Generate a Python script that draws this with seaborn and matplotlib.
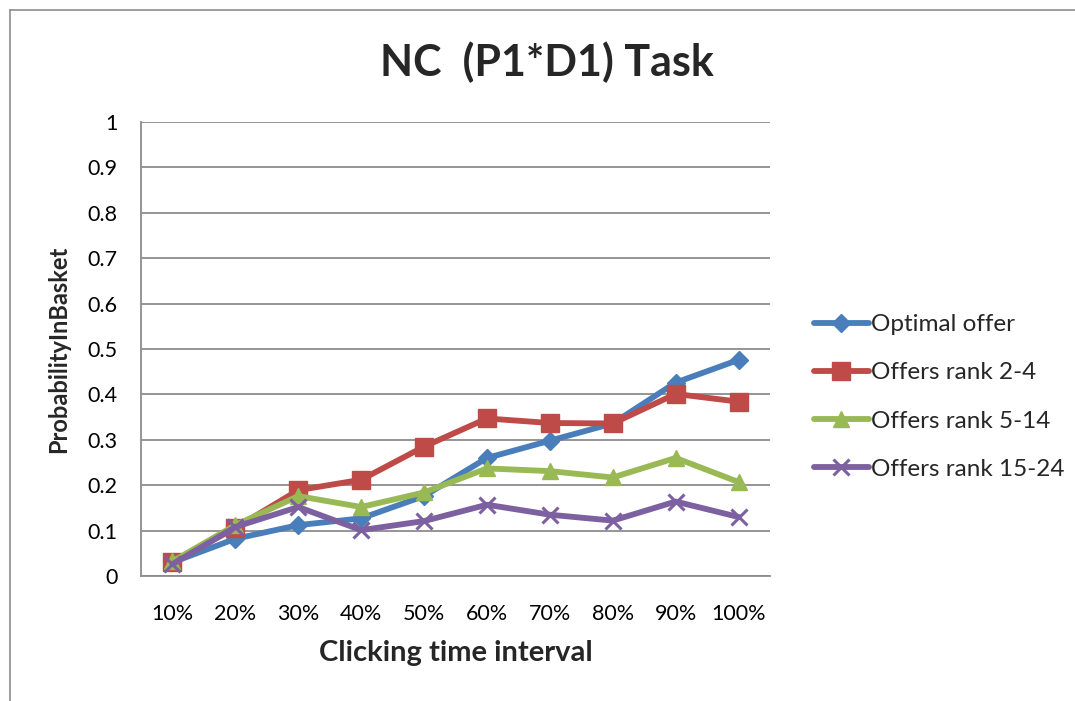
import matplotlib
matplotlib.use("Agg")
import matplotlib.pyplot as plt
from matplotlib.lines import Line2D
import seaborn as sns
import pandas as pd

intervals = ["10%", "20%", "30%", "40%", "50%", "60%", "70%", "80%", "90%", "100%"]
optimal = [0.030, 0.082, 0.112, 0.127, 0.176, 0.260, 0.298, 0.336, 0.426, 0.476]
rank_2_4 = [0.030, 0.106, 0.189, 0.212, 0.285, 0.347, 0.337, 0.336, 0.401, 0.384]
rank_5_14 = [0.032, 0.112, 0.176, 0.152, 0.184, 0.237, 0.231, 0.217, 0.260, 0.207]
rank_15_24 = [0.026, 0.108, 0.152, 0.101, 0.121, 0.157, 0.135, 0.122, 0.164, 0.130]
series_names = ["Optimal offer", "Offers rank 2-4", "Offers rank 5-14", "Offers rank 15-24"]
y_ticks = [0, 0.1, 0.2, 0.3, 0.4, 0.5, 0.6, 0.7, 0.8, 0.9, 1]

colors = ["#4A7EBB", "#BE4B48", "#98B954", "#7D60A0"]
marker_shapes = ["D", "s", "^", "x"]
marker_sizes = [9, 13, 12, 12]

rows = []
for name, vals in zip(series_names, [optimal, rank_2_4, rank_5_14, rank_15_24]):
    for i, v in enumerate(vals):
        rows.append({"pos": i, "interval": intervals[i], "series": name, "value": v})
df = pd.DataFrame(rows)

sns.set_theme(style="white")
plt.rcParams["font.family"] = ["Lato", "DejaVu Sans"]

fig = plt.figure(figsize=(10.75, 7.01), dpi=100)
fig.patch.set_facecolor("white")

# outer chart frame (left and top edges)
fig.add_artist(Line2D([10 / 1075, 10 / 1075], [0, 1 - 10 / 701], transform=fig.transFigure,
                      color="#8C8C8C", lw=1.2))
fig.add_artist(Line2D([10 / 1075, 1], [1 - 10 / 701, 1 - 10 / 701], transform=fig.transFigure,
                      color="#8C8C8C", lw=1.2))

ax = fig.add_axes([141 / 1075, 125 / 701, 629 / 1075, 454 / 701])

for name, col, mk, ms in zip(series_names, colors, marker_shapes, marker_sizes):
    sub = df[df["series"] == name]
    sns.lineplot(data=sub, x="pos", y="value", ax=ax, color=col, lw=4.2,
                 marker=mk, markersize=ms, markeredgecolor=col,
                 markeredgewidth=2.2 if mk == "x" else 1, label=name, legend=False)

ax.set_xlim(-0.5, 9.5)
ax.set_ylim(0, 1)
ax.set_xticks(range(len(intervals)))
ax.set_xticklabels(intervals)
ax.set_yticks(y_ticks)
ax.set_yticklabels([f"{t:g}" for t in y_ticks])
ax.yaxis.grid(True, color="#8C8C8C", lw=1.3)
ax.xaxis.grid(False)
ax.set_axisbelow(True)
for side in ["top", "right"]:
    ax.spines[side].set_visible(False)
for side in ["left", "bottom"]:
    ax.spines[side].set_color("#8C8C8C")
    ax.spines[side].set_linewidth(1.3)
ax.tick_params(axis="both", labelsize=15.5, colors="black", length=0)
ax.tick_params(axis="x", pad=20)
ax.tick_params(axis="y", pad=17)

ax.set_xlabel("Clicking time interval", fontsize=21, fontweight="bold", labelpad=12)
ax.set_ylabel("ProbabilityInBasket", fontsize=17, fontweight="bold", labelpad=12)
fig.text(547 / 1075, 1 - 62 / 701, "NC  (P1*D1) Task", ha="center", va="center",
         fontsize=31, fontweight="bold")

handles = [Line2D([0], [0], color=c, lw=4.2, marker=m, markersize=s, markeredgecolor=c,
                  markeredgewidth=2.2 if m == "x" else 1)
           for c, m, s in zip(colors, marker_shapes, marker_sizes)]
fig.legend(handles, series_names, loc="center left", bbox_to_anchor=(792 / 1075, 1 - 397 / 701),
           frameon=False, fontsize=17.5, handlelength=2.25, handletextpad=0.12, labelspacing=1.12)

fig.savefig("out.png", dpi=100, facecolor="white")
